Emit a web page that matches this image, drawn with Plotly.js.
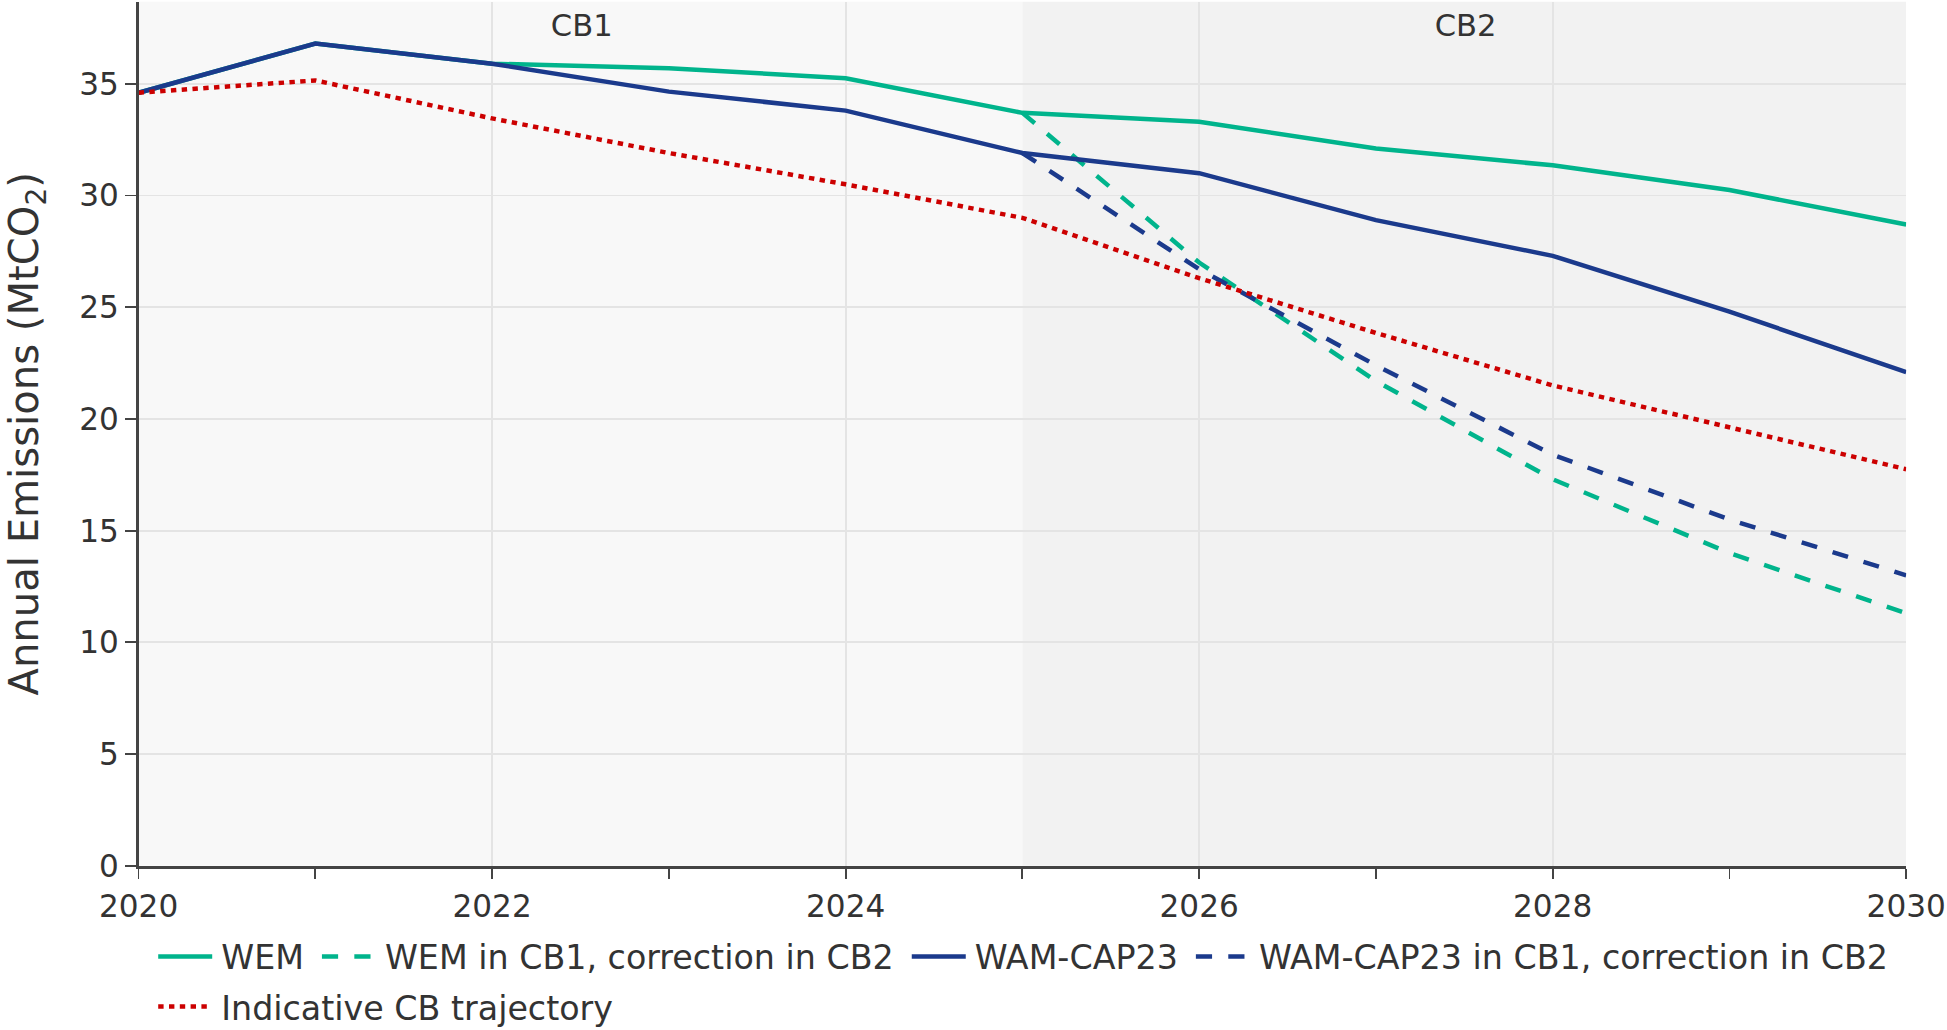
<!DOCTYPE html>
<html>
<head>
<meta charset="utf-8">
<script src="https://cdn.plot.ly/plotly-3.0.1.min.js"></script>
<style>
  html, body { margin: 0; padding: 0; background: #ffffff; overflow: hidden; }
  #wrap { width: 1947px; height: 1030px; overflow: hidden; position: relative; }
  #chart { width: 1082px; height: 572px; transform: scale(1.8); transform-origin: 0 0; }
</style>
</head>
<body>
<div id="wrap"><div id="chart"></div></div>
<script>
// ---- data ----
const years = [2020, 2021, 2022, 2023, 2024, 2025, 2026, 2027, 2028, 2029, 2030];
const wem = [34.6, 36.8, 35.9, 35.7, 35.25, 33.7, 33.3, 32.1, 31.35, 30.25, 28.7];
const wam = [34.6, 36.8, 35.9, 34.65, 33.8, 31.9, 31.0, 28.9, 27.3, 24.8, 22.1];
const corrYears = [2025, 2026, 2027, 2028, 2029, 2030];
const wemCorr = [33.7, 27.0, 21.7, 17.3, 14.0, 11.3];
const wamCorr = [31.9, 26.7, 22.4, 18.4, 15.5, 13.0];
const indicative = [34.6, 35.15, 33.45, 31.9, 30.5, 29.0, 26.3, 23.85, 21.5, 19.65, 17.75];
const seriesNames = ["WEM", "WEM in CB1, correction in CB2", "WAM-CAP23", "WAM-CAP23 in CB1, correction in CB2", "Indicative CB trajectory"];
const periods = [{label: "CB1", start: 2020, end: 2025}, {label: "CB2", start: 2025, end: 2030}];

const teal = "#00b48c", navy = "#1b3a8c", red = "#cc0000";
const lw = 2.5;
const fontFam = "DejaVu Sans, Verdana, sans-serif";
const textCol = "#333333";

const traces = [
  {x: years, y: wem, name: seriesNames[0], mode: "lines", line: {color: teal, width: lw}, legend: "legend"},
  {x: corrYears, y: wemCorr, name: seriesNames[1], mode: "lines", line: {color: teal, width: lw, dash: "dash"}, legend: "legend"},
  {x: years, y: wam, name: seriesNames[2], mode: "lines", line: {color: navy, width: lw}, legend: "legend"},
  {x: corrYears, y: wamCorr, name: seriesNames[3], mode: "lines", line: {color: navy, width: lw, dash: "dash"}, legend: "legend"},
  {x: years, y: indicative, name: seriesNames[4], mode: "lines", line: {color: red, width: lw, dash: "dot"}, legend: "legend2"}
];

const bgCols = ["#f8f8f8", "#f2f2f2"];
const shapes = periods.map((p, i) => ({
  type: "rect", xref: "x", yref: "paper", x0: p.start, x1: p.end, y0: 0, y1: 1,
  fillcolor: bgCols[i], line: {width: 0}, layer: "below"
}));
const annotations = periods.map(p => ({
  x: (p.start + p.end) / 2, xref: "x", y: 1, yref: "paper", yanchor: "middle", yshift: -12.5,
  text: p.label, showarrow: false, font: {family: fontFam, size: 17, color: textCol}
}));

const legendFont = {family: fontFam, size: 18.5, color: textCol};

const layout = {
  width: 1082, height: 572,
  margin: {l: 77.2, r: 23.1, t: 1.4, b: 91.2, pad: 0, autoexpand: false},
  paper_bgcolor: "#ffffff", plot_bgcolor: "#ffffff",
  font: {family: fontFam, size: 17, color: textCol},
  showlegend: true,
  legend: {orientation: "h", x: 0.006, xanchor: "left", y: -0.0663, yanchor: "top",
           font: legendFont, bgcolor: "rgba(0,0,0,0)"},
  legend2: {orientation: "h", x: 0.006, xanchor: "left", y: -0.1243, yanchor: "top",
           font: legendFont, bgcolor: "rgba(0,0,0,0)"},
  xaxis: {
    range: [2020, 2030], tick0: 2020, dtick: 2, ticks: "outside", ticklen: 6, tickcolor: "#444",
    showline: true, linecolor: "#444", linewidth: 1.5, showgrid: true, gridcolor: "#e4e4e4", gridwidth: 1,
    zeroline: false, tickfont: {family: fontFam, size: 17.3, color: textCol},
    minor: {dtick: 1, tick0: 2020, ticks: "outside", ticklen: 6, tickcolor: "#444", showgrid: false}
  },
  yaxis: {
    range: [0, 38.67], dtick: 5, tick0: 0, ticks: "outside", ticklen: 6, tickcolor: "#444",
    showline: true, linecolor: "#444", linewidth: 1.5, showgrid: true, gridcolor: "#e4e4e4", gridwidth: 1,
    zeroline: false, tickfont: {family: fontFam, size: 17.3, color: textCol},
    title: {text: "Annual Emissions (MtCO<sub>2</sub>)", font: {family: fontFam, size: 22.3, color: textCol}, standoff: 21}
  },
  shapes: shapes,
  annotations: annotations
};

Plotly.newPlot("chart", traces, layout, {displayModeBar: false, staticPlot: true});
</script>
</body>
</html>
